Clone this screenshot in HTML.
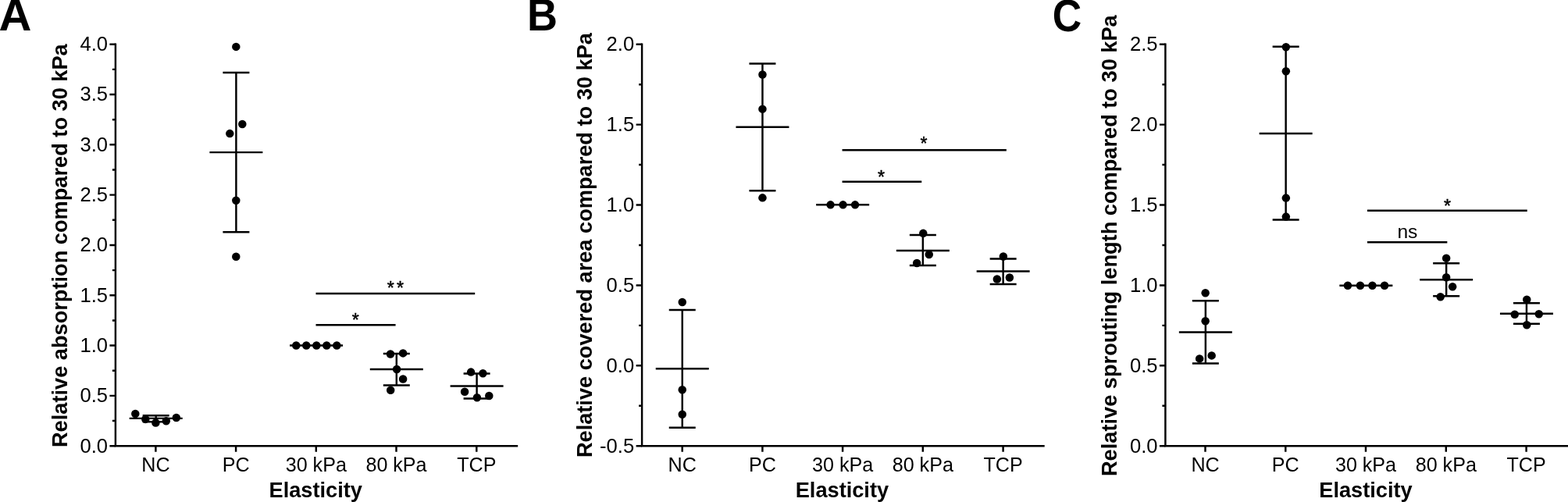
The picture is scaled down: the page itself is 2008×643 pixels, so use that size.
<!DOCTYPE html>
<html lang="en"><head><meta charset="utf-8"><title>Figure</title>
<style>
html,body{margin:0;padding:0;background:#fff;}
body{width:2008px;height:643px;overflow:hidden;}
svg{display:block;}
text{font-family:'Liberation Sans', Arial, Helvetica, sans-serif;fill:#000;}
.tk{font-size:25.6px;text-anchor:end;}
.ct{font-size:25.1px;text-anchor:middle;}
.tt{font-size:27.2px;font-weight:bold;text-anchor:middle;}
.pl{font-size:57.5px;font-weight:bold;}
.sg{font-size:25.6px;text-anchor:middle;}
.st{font-size:23.2px;letter-spacing:3.1px;stroke:#000;stroke-width:0.45px;}
.ax{stroke:#000;stroke-width:2.45;fill:none;stroke-linecap:butt;}
.ln{stroke:#000;stroke-width:2.45;fill:none;stroke-linecap:butt;}
.dt{fill:#000;}
</style></head><body>
<svg width="2008" height="643" viewBox="0 0 2008 643">
<rect x="0" y="0" width="2008" height="643" fill="#fff"/>
<g>
<text class="pl" style="font-size:54px" transform="translate(-1.6 38.6) scale(1.075 1.064)">A</text>
<path class="ax" d="M147.9 55.48 V571.2 H663.2"/>
<path class="ax" d="M147.9 571.2 H140.4M147.9 539.04 H143.9M147.9 506.89 H140.4M147.9 474.73 H143.9M147.9 442.58 H140.4M147.9 410.42 H143.9M147.9 378.26 H140.4M147.9 346.11 H143.9M147.9 313.95 H140.4M147.9 281.79 H143.9M147.9 249.64 H140.4M147.9 217.48 H143.9M147.9 185.33 H140.4M147.9 153.17 H143.9M147.9 121.01 H140.4M147.9 88.86 H143.9M147.9 56.7 H140.4"/>
<text class="tk" x="138" y="579.6">0.0</text>
<text class="tk" x="138" y="515.29">0.5</text>
<text class="tk" x="138" y="450.98">1.0</text>
<text class="tk" x="138" y="386.66">1.5</text>
<text class="tk" x="138" y="322.35">2.0</text>
<text class="tk" x="138" y="258.04">2.5</text>
<text class="tk" x="138" y="193.73">3.0</text>
<text class="tk" x="138" y="129.41">3.5</text>
<text class="tk" x="138" y="65.1">4.0</text>
<path class="ax" d="M199.4 571.2 V578.7M302.1 571.2 V578.7M404.8 571.2 V578.7M507.5 571.2 V578.7M610.3 571.2 V578.7"/>
<text class="ct" x="199.4" y="604">NC</text>
<text class="ct" x="302.1" y="604">PC</text>
<text class="ct" x="404.8" y="604">30 kPa</text>
<text class="ct" x="507.5" y="604">80 kPa</text>
<text class="ct" x="610.3" y="604">TCP</text>
<text class="tt" x="404.2" y="637.3">Elasticity</text>
<text class="tt" transform="translate(86.2 314.65) rotate(-90)">Relative absorption compared to 30 kPa</text>
<g transform="translate(0.3 0.3)">
<path class="ln" d="M165.4 535.6 H233.4M199.4 531.9 V540M182.4 531.9 H216.4M182.4 540 H216.4"/>
<circle class="dt" cx="173" cy="529.7" r="5.25"/>
<circle class="dt" cx="186" cy="536.6" r="5.25"/>
<circle class="dt" cx="199.1" cy="541.2" r="5.25"/>
<circle class="dt" cx="212.5" cy="539" r="5.25"/>
<circle class="dt" cx="225.5" cy="534.7" r="5.25"/>
<path class="ln" d="M268.1 194.8 H336.1M302.1 92.6 V297M285.1 92.6 H319.1M285.1 297 H319.1"/>
<circle class="dt" cx="302" cy="59.6" r="5.25"/>
<circle class="dt" cx="310" cy="158.7" r="5.25"/>
<circle class="dt" cx="294" cy="170.8" r="5.25"/>
<circle class="dt" cx="302" cy="256.4" r="5.25"/>
<circle class="dt" cx="302" cy="328.5" r="5.25"/>
<path class="ln" d="M370.8 442.2 H438.8"/>
<circle class="dt" cx="379" cy="442.2" r="5.25"/>
<circle class="dt" cx="392" cy="442.2" r="5.25"/>
<circle class="dt" cx="405" cy="442.2" r="5.25"/>
<circle class="dt" cx="418" cy="442.2" r="5.25"/>
<circle class="dt" cx="431" cy="442.2" r="5.25"/>
<path class="ln" d="M473.5 472.7 H541.5M507.5 452.7 V493.3M490.5 452.7 H524.5M490.5 493.3 H524.5"/>
<circle class="dt" cx="499.7" cy="453.2" r="5.25"/>
<circle class="dt" cx="515.8" cy="452.1" r="5.25"/>
<circle class="dt" cx="507.8" cy="472.7" r="5.25"/>
<circle class="dt" cx="515.8" cy="485.2" r="5.25"/>
<circle class="dt" cx="499.9" cy="499.5" r="5.25"/>
<path class="ln" d="M576.3 494.3 H644.3M610.3 478.2 V510.3M593.3 478.2 H627.3M593.3 510.3 H627.3"/>
<circle class="dt" cx="602.8" cy="476.3" r="5.25"/>
<circle class="dt" cx="618.1" cy="478" r="5.25"/>
<circle class="dt" cx="594.8" cy="501.5" r="5.25"/>
<circle class="dt" cx="626" cy="506.7" r="5.25"/>
<circle class="dt" cx="610.6" cy="508.9" r="5.25"/>
<path class="ln" d="M404.2 375.6 H607.9"/>
<text class="sg st" x="507.7" y="376.45">**</text>
<path class="ln" d="M404.2 416 H506.3"/>
<text class="sg st" x="456.5" y="417.95">*</text>
</g>
</g>
<g>
<text class="pl" style="font-size:54px" transform="translate(675 38.6) scale(1.000 1.064)">B</text>
<path class="ax" d="M822.1 55.48 V571.2 H1337.7"/>
<path class="ax" d="M822.1 571.2 H814.6M822.1 519.75 H818.1M822.1 468.3 H814.6M822.1 416.85 H818.1M822.1 365.4 H814.6M822.1 313.95 H818.1M822.1 262.5 H814.6M822.1 211.05 H818.1M822.1 159.6 H814.6M822.1 108.15 H818.1M822.1 56.7 H814.6"/>
<text class="tk" x="812.2" y="579.6">-0.5</text>
<text class="tk" x="812.2" y="476.7">0.0</text>
<text class="tk" x="812.2" y="373.8">0.5</text>
<text class="tk" x="812.2" y="270.9">1.0</text>
<text class="tk" x="812.2" y="168">1.5</text>
<text class="tk" x="812.2" y="65.1">2.0</text>
<path class="ax" d="M873.7 571.2 V578.7M976.4 571.2 V578.7M1079.1 571.2 V578.7M1181.8 571.2 V578.7M1284.6 571.2 V578.7"/>
<text class="ct" x="873.7" y="604">NC</text>
<text class="ct" x="976.4" y="604">PC</text>
<text class="ct" x="1079.1" y="604">30 kPa</text>
<text class="ct" x="1181.8" y="604">80 kPa</text>
<text class="ct" x="1284.6" y="604">TCP</text>
<text class="tt" x="1078.4" y="637.4">Elasticity</text>
<text class="tt" transform="translate(758 314.1) rotate(-90)">Relative covered area compared to 30 kPa</text>
<g transform="translate(0.45 0.45)">
<path class="ln" d="M839.3 471.7 H907.3M873.3 396.6 V547.3M856.3 396.6 H890.3M856.3 547.3 H890.3"/>
<circle class="dt" cx="873.3" cy="386.6" r="5.25"/>
<circle class="dt" cx="873.3" cy="498.8" r="5.25"/>
<circle class="dt" cx="873.3" cy="530.3" r="5.25"/>
<path class="ln" d="M942 162.2 H1010M976 81.1 V243.9M959 81.1 H993M959 243.9 H993"/>
<circle class="dt" cx="976" cy="95.1" r="5.25"/>
<circle class="dt" cx="976" cy="139.2" r="5.25"/>
<circle class="dt" cx="976" cy="252.9" r="5.25"/>
<path class="ln" d="M1044.7 261.9 H1112.7"/>
<circle class="dt" cx="1063.1" cy="261.9" r="5.25"/>
<circle class="dt" cx="1079.1" cy="261.9" r="5.25"/>
<circle class="dt" cx="1094.6" cy="261.9" r="5.25"/>
<path class="ln" d="M1147.4 320.5 H1215.4M1181.4 300.5 V339.5M1164.4 300.5 H1198.4M1164.4 339.5 H1198.4"/>
<circle class="dt" cx="1181.8" cy="298.4" r="5.25"/>
<circle class="dt" cx="1189.3" cy="325.5" r="5.25"/>
<circle class="dt" cx="1173.7" cy="336.5" r="5.25"/>
<path class="ln" d="M1250.2 347 H1318.2M1284.2 331 V363.6M1267.2 331 H1301.2M1267.2 363.6 H1301.2"/>
<circle class="dt" cx="1284.4" cy="328" r="5.25"/>
<circle class="dt" cx="1276.4" cy="357" r="5.25"/>
<circle class="dt" cx="1292.4" cy="355" r="5.25"/>
<path class="ln" d="M1078.1 191.8 H1288.4"/>
<text class="sg st" x="1184" y="191.95">*</text>
<path class="ln" d="M1078.1 232.3 H1179.8"/>
<text class="sg st" x="1129.7" y="234.75">*</text>
</g>
</g>
<g>
<text class="pl" style="font-size:57.5px" transform="translate(1347.7 40.4) scale(0.900 1.000)">C</text>
<path class="ax" d="M1492.4 55.48 V571.2 H2010"/>
<path class="ax" d="M1492.4 571.2 H1484.9M1492.4 519.75 H1488.4M1492.4 468.3 H1484.9M1492.4 416.85 H1488.4M1492.4 365.4 H1484.9M1492.4 313.95 H1488.4M1492.4 262.5 H1484.9M1492.4 211.05 H1488.4M1492.4 159.6 H1484.9M1492.4 108.15 H1488.4M1492.4 56.7 H1484.9"/>
<text class="tk" x="1482.5" y="579.6">0.0</text>
<text class="tk" x="1482.5" y="476.7">0.5</text>
<text class="tk" x="1482.5" y="373.8">1.0</text>
<text class="tk" x="1482.5" y="270.9">1.5</text>
<text class="tk" x="1482.5" y="168">2.0</text>
<text class="tk" x="1482.5" y="65.1">2.5</text>
<path class="ax" d="M1543.5 571.2 V578.7M1646.3 571.2 V578.7M1749 571.2 V578.7M1851.8 571.2 V578.7M1954.6 571.2 V578.7"/>
<text class="ct" x="1543.5" y="604">NC</text>
<text class="ct" x="1646.3" y="604">PC</text>
<text class="ct" x="1749" y="604">30 kPa</text>
<text class="ct" x="1851.8" y="604">80 kPa</text>
<text class="ct" x="1954.6" y="604">TCP</text>
<text class="tt" x="1749" y="637.3">Elasticity</text>
<text class="tt" transform="translate(1430.3 314.65) rotate(-90)">Relative sprouting length compared to 30 kPa</text>
<g transform="translate(0.35 0.2)">
<path class="ln" d="M1509.5 425.2 H1577.5M1543.5 385.1 V465.2M1526.5 385.1 H1560.5M1526.5 465.2 H1560.5"/>
<circle class="dt" cx="1543.3" cy="375.1" r="5.25"/>
<circle class="dt" cx="1543.3" cy="411.1" r="5.25"/>
<circle class="dt" cx="1535.8" cy="459.2" r="5.25"/>
<circle class="dt" cx="1551.3" cy="455.2" r="5.25"/>
<path class="ln" d="M1612.3 170.8 H1680.3M1646.3 59.6 V281.4M1629.3 59.6 H1663.3M1629.3 281.4 H1663.3"/>
<circle class="dt" cx="1646.5" cy="60.1" r="5.25"/>
<circle class="dt" cx="1646.5" cy="91.1" r="5.25"/>
<circle class="dt" cx="1646.5" cy="253.4" r="5.25"/>
<circle class="dt" cx="1646.5" cy="277.4" r="5.25"/>
<path class="ln" d="M1715 365.6 H1783"/>
<circle class="dt" cx="1725.6" cy="365.6" r="5.25"/>
<circle class="dt" cx="1741.6" cy="365.6" r="5.25"/>
<circle class="dt" cx="1757.1" cy="365.6" r="5.25"/>
<circle class="dt" cx="1772.7" cy="365.6" r="5.25"/>
<path class="ln" d="M1817.8 358 H1885.8M1851.8 337 V379M1834.8 337 H1868.8M1834.8 379 H1868.8"/>
<circle class="dt" cx="1851.8" cy="330.5" r="5.25"/>
<circle class="dt" cx="1851.8" cy="355" r="5.25"/>
<circle class="dt" cx="1859.8" cy="367.1" r="5.25"/>
<circle class="dt" cx="1844.3" cy="380.1" r="5.25"/>
<path class="ln" d="M1920.6 401.6 H1988.6M1954.6 388.1 V414.6M1937.6 388.1 H1971.6M1937.6 414.6 H1971.6"/>
<circle class="dt" cx="1954.9" cy="383.6" r="5.25"/>
<circle class="dt" cx="1939.4" cy="402.6" r="5.25"/>
<circle class="dt" cx="1970.4" cy="402.1" r="5.25"/>
<circle class="dt" cx="1954.9" cy="416.1" r="5.25"/>
<path class="ln" d="M1750.6 269.5 H1955.4"/>
<text class="sg st" x="1854.75" y="271.95">*</text>
<path class="ln" d="M1750.6 310.1 H1853"/>
<text class="sg" style="font-size:24.6px" x="1802.1" y="304.6">ns</text>
</g>
</g>
</svg>
</body></html>
